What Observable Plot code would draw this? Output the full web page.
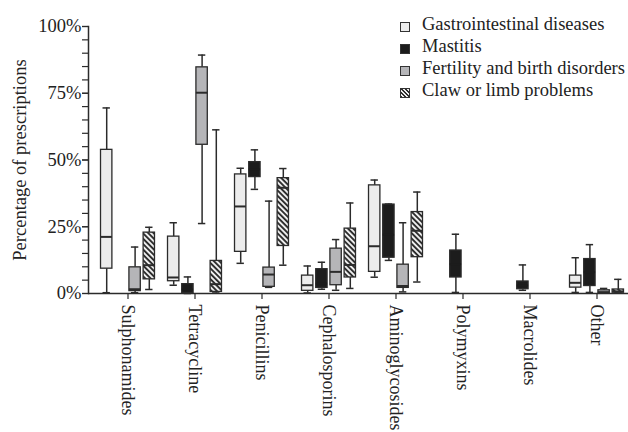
<!DOCTYPE html>
<html><head><meta charset="utf-8">
<script src="https://cdn.jsdelivr.net/npm/d3@7"></script>
<script src="https://cdn.jsdelivr.net/npm/@observablehq/plot@0.6"></script>
<style>
html,body{margin:0;padding:0;background:#fff;}
#wrap{position:relative;width:628px;height:432px;overflow:hidden;font-family:"Liberation Serif","Times New Roman",serif;color:#222;}
#legend{position:absolute;left:400px;top:13px;font-size:18.5px;line-height:22px;}
.row{display:flex;align-items:center;height:22px;white-space:nowrap;}
.sw{width:8px;height:8px;border:1px solid #333;margin-right:12px;margin-top:5px;flex:none;}
</style></head><body>
<div id="wrap"><div id="chart"></div><div id="legend"></div></div>
<script>
const categories = ["Sulphonamides","Tetracycline","Penicillins","Cephalosporins","Aminoglycosides","Polymyxins","Macrolides","Other"];
const diseases = ["Gastrointestinal diseases","Mastitis","Fertility and birth disorders","Claw or limb problems"];
const yTicks = [0, 25, 50, 75, 100];
// [min, q1, median, q3, max] in percent, null = no box
const gastrointestinal = [
  [0.3, 9.3, 21.2, 53.8, 69.5],
  [3.1, 4.6, 6.0, 21.3, 26.5],
  [11.3, 15.6, 32.6, 44.6, 46.9],
  [0.2, 1.0, 3.1, 6.7, 10.3],
  [6.1, 8.1, 17.7, 40.5, 42.5],
  null,
  null,
  [0.4, 2.2, 4.0, 6.7, 13.4]
];
const mastitis = [
  null,
  [0.0, 0.1, 1.5, 3.5, 6.2],
  [39.0, 43.6, 46.5, 49.2, 53.8],
  [1.6, 2.1, 3.7, 9.1, 11.7],
  [12.4, 13.4, 22.0, 33.3, 33.5],
  [0.4, 6.0, 11.0, 16.1, 22.2],
  [1.2, 1.6, 3.0, 4.5, 10.7],
  [0.4, 2.8, 8.0, 12.9, 18.3]
];
const fertility = [
  [0.3, 0.9, 1.6, 9.8, 17.4],
  [26.2, 55.7, 75.2, 84.7, 89.3],
  [2.3, 2.5, 7.1, 9.7, 34.6],
  [1.2, 3.1, 8.1, 16.8, 20.2],
  [0.6, 2.1, 2.8, 10.8, 26.5],
  null,
  null,
  [0.1, 0.2, 0.5, 1.2, 1.9]
];
const claw = [
  [1.5, 5.3, 10.6, 22.8, 24.8],
  [0.2, 0.6, 3.5, 12.2, 61.3],
  [10.6, 17.8, 39.6, 43.2, 46.8],
  [1.9, 6.0, 10.7, 24.3, 33.9],
  [4.3, 13.6, 23.5, 30.5, 38.0],
  null,
  null,
  [0.2, 0.3, 0.8, 1.5, 5.3]
];

const series = [gastrointestinal, mastitis, fertility, claw];
const rows = [];
diseases.forEach((dis, di) => series[di].forEach((v, ci) => {
  if (v) rows.push({category: categories[ci], disease: dis, di, min: v[0], q1: v[1], median: v[2], q3: v[3], max: v[4]});
}));

const fills = ["#ececec", "#1c1c1c", "#b5b5b8", "url(#hatch)"];
const ink = "#2b2b2b";
const xRange = [91, 632];
const bw = (xRange[1] - xRange[0]) / categories.length;
const slot = 14.2, boxW = 12, capW = 8;
const boxInset = (bw - boxW) / 2, capInset = (bw - capW) / 2;

const marks = [];
diseases.forEach((dis, di) => {
  const data = rows.filter(d => d.di === di);
  const dx = (di - 1.5) * slot;
  marks.push(
    Plot.ruleX(data, {x: "category", y1: "min", y2: "q1", dx, stroke: ink, strokeWidth: 1.5}),
    Plot.ruleX(data, {x: "category", y1: "q3", y2: "max", dx, stroke: ink, strokeWidth: 1.5}),
    Plot.tickY(data, {x: "category", y: "min", dx, insetLeft: capInset, insetRight: capInset, stroke: ink, strokeWidth: 1.5}),
    Plot.tickY(data, {x: "category", y: "max", dx, insetLeft: capInset, insetRight: capInset, stroke: ink, strokeWidth: 1.5}),
    Plot.barY(data, {x: "category", y1: "q1", y2: "q3", dx, insetLeft: boxInset, insetRight: boxInset, fill: fills[di], stroke: ink, strokeWidth: 1.3}),
    Plot.tickY(data, {x: "category", y: "median", dx, insetLeft: boxInset, insetRight: boxInset, stroke: di === 1 ? "#1c1c1c" : ink, strokeWidth: 2})
  );
});

const chart = Plot.plot({
  width: 628,
  height: 432,
  marginLeft: 88,
  marginRight: 0,
  marginTop: 26,
  marginBottom: 139,
  style: {fontFamily: "'Liberation Serif','Times New Roman',serif", fontSize: "18px", color: "#222", background: "#fff"},
  x: {type: "band", domain: categories, range: xRange, padding: 0},
  y: {domain: [0, 100]},
  marks: [
    ...marks,
    Plot.axisY({ticks: d3.range(0, 101, 5), tickSize: 6, tickFormat: () => "", label: null, stroke: ink, strokeWidth: 1.2}),
    Plot.axisY({ticks: yTicks, tickFormat: d => d + "%", tickSize: 6, tickPadding: 1, fontSize: 18.5, stroke: ink, strokeWidth: 1.2,
      label: "Percentage of prescriptions", labelAnchor: "center", labelOffset: 76, labelArrow: "none"}),
    Plot.axisX({tickSize: 6, tickPadding: 5, tickRotate: 90, fontSize: 18, label: null, stroke: ink, strokeWidth: 1.2}),
    Plot.frame({anchor: "left", stroke: ink, strokeWidth: 1.5}),
    Plot.ruleY([0], {stroke: ink, strokeWidth: 1.5})
  ]
});

// hatch pattern for "Claw or limb problems"
const ns = "http://www.w3.org/2000/svg";
const defs = document.createElementNS(ns, "defs");
defs.innerHTML = '<pattern id="hatch" patternUnits="userSpaceOnUse" width="3.8" height="3.8" patternTransform="rotate(-45)">' +
  '<rect width="3.8" height="3.8" fill="#eeeeee"></rect><rect width="1.9" height="3.8" fill="#2e2e2e"></rect></pattern>';
chart.insertBefore(defs, chart.firstChild);
document.getElementById("chart").appendChild(chart);

// legend
const legend = document.getElementById("legend");
const swatchStyles = [
  "background:#ececec",
  "background:#1c1c1c",
  "background:#b5b5b8",
  "background:repeating-linear-gradient(45deg,#2e2e2e 0 1.4px,#eeeeee 1.4px 2.8px)"
];
diseases.forEach((dis, i) => {
  const row = document.createElement("div");
  row.className = "row";
  const sw = document.createElement("span");
  sw.className = "sw";
  sw.style.cssText = swatchStyles[i];
  const t = document.createElement("span");
  t.textContent = dis;
  row.appendChild(sw); row.appendChild(t);
  legend.appendChild(row);
});
</script></body></html>
